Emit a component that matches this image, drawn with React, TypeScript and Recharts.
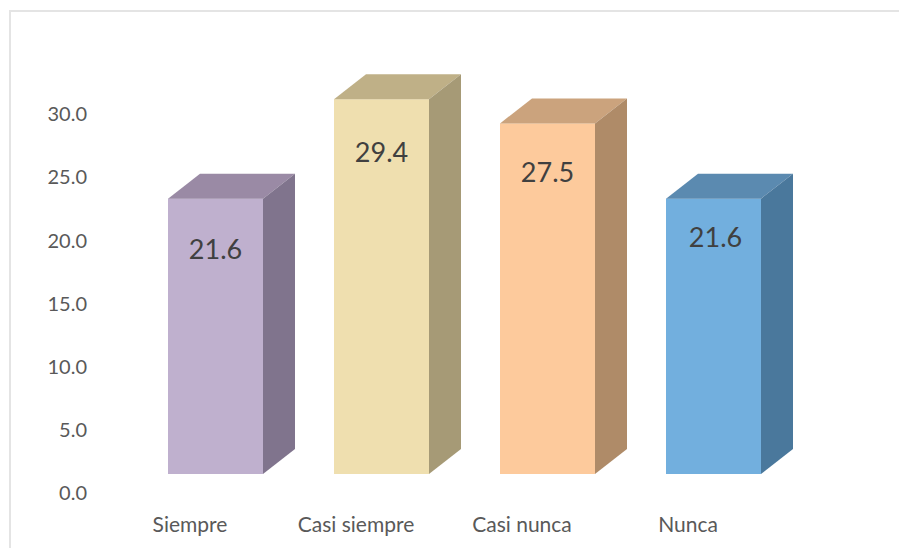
import React from 'react';
import { ComposedChart, Bar, Line, XAxis, YAxis, LabelList } from 'recharts';

const categories = ['Siempre', 'Casi siempre', 'Casi nunca', 'Nunca'];
const values = [21.6, 29.4, 27.5, 21.6];
const yTicks = [0, 5, 10, 15, 20, 25, 30];

const frontColors = ['#BFB0CE', '#EFDFAF', '#FDCA9C', '#72AFDE'];
const topColors = ['#9A8AA5', '#BFB087', '#CBA37D', '#5B8AB0'];
const sideColors = ['#80748D', '#A69A76', '#AF8B68', '#4A789C'];
const labelDrops = [50, 52, 48, 38];
const labelShifts = [0, 0, 0, 2];

const DEPTH_X = 32;
const DEPTH_Y = 25;
const FONT = 'Lato, sans-serif';

const data = categories.map((name, i) => ({ name, value: values[i] }));

const Box3D = (props: any) => {
  const { x, y, width, height, index } = props;
  const right = x + width;
  const bottom = y + height;
  return (
    <g>
      <rect x={x} y={y} width={width} height={height} fill={frontColors[index]} />
      <polygon
        points={`${x},${y} ${x + DEPTH_X},${y - DEPTH_Y} ${right + DEPTH_X},${y - DEPTH_Y} ${right},${y}`}
        fill={topColors[index]}
      />
      <polygon
        points={`${right},${y} ${right + DEPTH_X},${y - DEPTH_Y} ${right + DEPTH_X},${bottom - DEPTH_Y} ${right},${bottom}`}
        fill={sideColors[index]}
      />
    </g>
  );
};

const ValueLabel = (props: any) => {
  const { x, y, width, value, index } = props;
  return (
    <text
      x={x + width / 2 + labelShifts[index]}
      y={y + labelDrops[index]}
      textAnchor="middle"
      dominantBaseline="central"
      fontFamily={FONT}
      fontSize={27}
      fill="#404040"
    >
      {value.toFixed(1)}
    </text>
  );
};

export default function App() {
  return (
    <div style={{ position: 'absolute', left: 0, top: 0, width: 899, height: 548, background: '#fff' }}>
      <div
        style={{
          position: 'absolute',
          left: 9,
          top: 10,
          width: 890,
          height: 538,
          borderLeft: '2px solid #E4E4E4',
          borderTop: '2px solid #E4E4E4',
          boxSizing: 'border-box',
        }}
      />
      <div style={{ position: 'absolute', left: 0, top: 0 }}>
        <ComposedChart
          width={899}
          height={548}
          data={data}
          margin={{ top: 51, right: 103, bottom: 15, left: 10 }}
          barSize={95}
        >
          <XAxis
            xAxisId="labels"
            dataKey="name"
            height={40}
            padding={{ left: 0, right: 25 }}
            axisLine={false}
            tickLine={false}
            tickSize={0}
            tickMargin={24}
            interval={0}
            tick={{ fill: '#595959', fontFamily: FONT, fontSize: 21 }}
          />
          <XAxis xAxisId="bars" dataKey="name" hide height={0} padding={{ left: 25, right: 0 }} />
          <YAxis
            yAxisId="labels"
            orientation="left"
            width={97}
            type="number"
            domain={[0, 35]}
            ticks={yTicks}
            interval={0}
            axisLine={false}
            tickLine={false}
            tickSize={0}
            tickMargin={20}
            tickFormatter={(v: number) => v.toFixed(1)}
            tick={{ fill: '#595959', fontFamily: FONT, fontSize: 20 }}
          />
          <YAxis yAxisId="bars" hide width={0} domain={[-1.49, 33.18]} allowDataOverflow />
          {/* invisible series so the tick axis has something bound to it */}
          <Line
            xAxisId="labels"
            yAxisId="labels"
            dataKey="value"
            stroke="none"
            dot={false}
            activeDot={false}
            legendType="none"
            isAnimationActive={false}
          />
          <Bar
            xAxisId="bars"
            yAxisId="bars"
            dataKey="value"
            shape={<Box3D />}
            isAnimationActive={false}
          >
            <LabelList dataKey="value" content={<ValueLabel />} />
          </Bar>
        </ComposedChart>
      </div>
    </div>
  );
}
